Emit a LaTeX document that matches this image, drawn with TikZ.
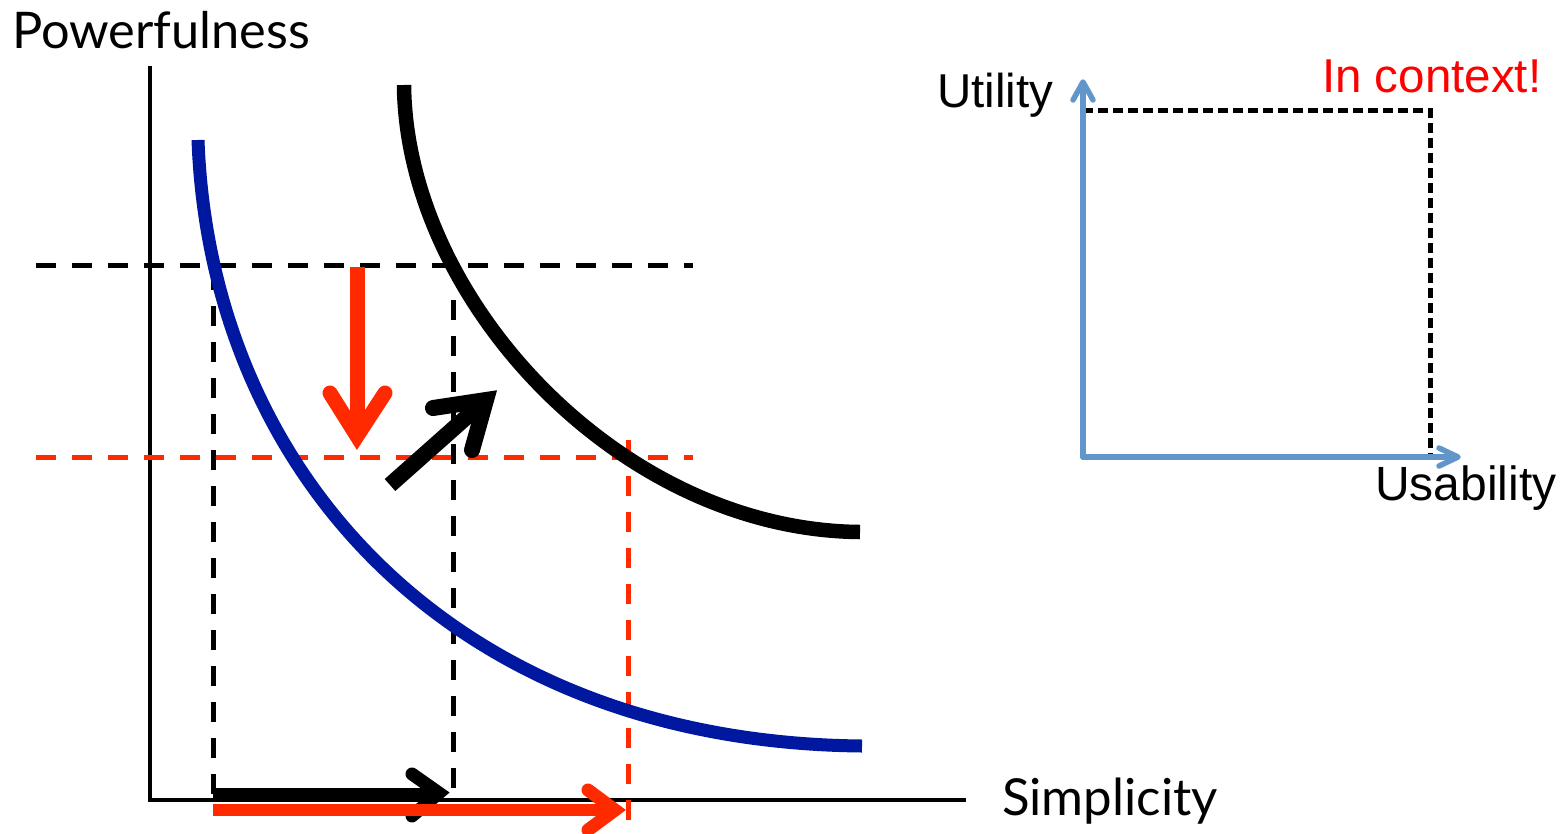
\documentclass[tikz,border=0pt]{standalone}
\usepackage{fontspec}
\setmainfont{Liberation Sans}
\newfontfamily\gill{Lato}
\definecolor{cblue}{HTML}{0018A0}
\definecolor{cred}{HTML}{FF2A00}
\definecolor{tred}{HTML}{FF0000}
\definecolor{lblue}{HTML}{6196CB}
\tikzset{
  axis/.style={line width=4.7pt},
  bdash/.style={line width=5pt, dash pattern=on 20pt off 16pt},
  rdash/.style={line width=5pt, cred, dash pattern=on 20pt off 16pt},
  rdashs/.style={line width=5pt, dash pattern=on 10pt off 5pt},
  fat/.style={line cap=round, line join=miter},
  lbl/.style={anchor=base west, inner sep=0pt},
  rax/.style={line width=5.5pt, lblue, line cap=round, line join=round},
}
\begin{document}
\begin{tikzpicture}[x=1pt,y=-1pt]
\useasboundingbox (0,0) rectangle (1568,833);
% labels
\node[lbl, font=\gill\fontsize{50.5}{54}\selectfont] (pw) at (12,48) {Powerfulness};
\node[lbl, font=\gill\fontsize{51}{54}\selectfont] (si) at (1002,815) {Simplicity};
% axes
\draw[axis] (150,66) -- (150,800) -- (966,800);
% dashed guides
\draw[bdash] (36,265) -- (693,265);
\draw[rdash] (36,457) -- (693,457);
\draw[bdash] (213,270) -- (213,800);
\draw[bdash] (453,300) -- (453,800);
\draw[rdash] (628,440) -- (628,833);
% curves
\draw[cblue, line width=13pt] (198,140) .. controls (210,470) and (450,742) .. (862,746);
\draw[black, line width=14.5pt] (404,85) .. controls (406,300) and (620,530) .. (860,532);
% red down arrow
\draw[cred, line width=15pt] (357,267) -- (357,430);
\draw[fat, cred, line width=15pt] (330,393) -- (357,436) -- (385,393);
% black diagonal arrow
\draw[line width=16pt] (390,485) -- (480,405);
\draw[fat, line width=16pt] (433,408) -- (486,400) -- (472,450);
% bottom black arrow
\draw[line width=14pt] (213,795) -- (440,795);
\draw[fat, line width=13pt] (412,774) -- (439,793) -- (412,816);
% bottom red arrow
\draw[line width=12pt, cred] (213,810) -- (612,810);
\draw[fat, cred, line width=13pt] (588,790) -- (615,810) -- (588,830);
% right panel
\draw[rdashs] (1083,110) -- (1430,110) -- (1430,457);
\draw[rax] (1083,457) -- (1083,83);
\draw[rax] (1073,100) -- (1083,82) -- (1093,100);
\draw[rax] (1083,457) -- (1457,457);
\draw[rax] (1439,448) -- (1458,457) -- (1439,466);
\node[lbl, font=\fontsize{47.5}{50}\selectfont] (ut) at (937,107) {Utility};
\node[lbl, font=\fontsize{47.5}{50}\selectfont, text=tred] (ic) at (1322,92) {In context!};
\node[lbl, font=\fontsize{48}{50}\selectfont] (us) at (1375,500) {Usability};
\end{tikzpicture}
\end{document}
